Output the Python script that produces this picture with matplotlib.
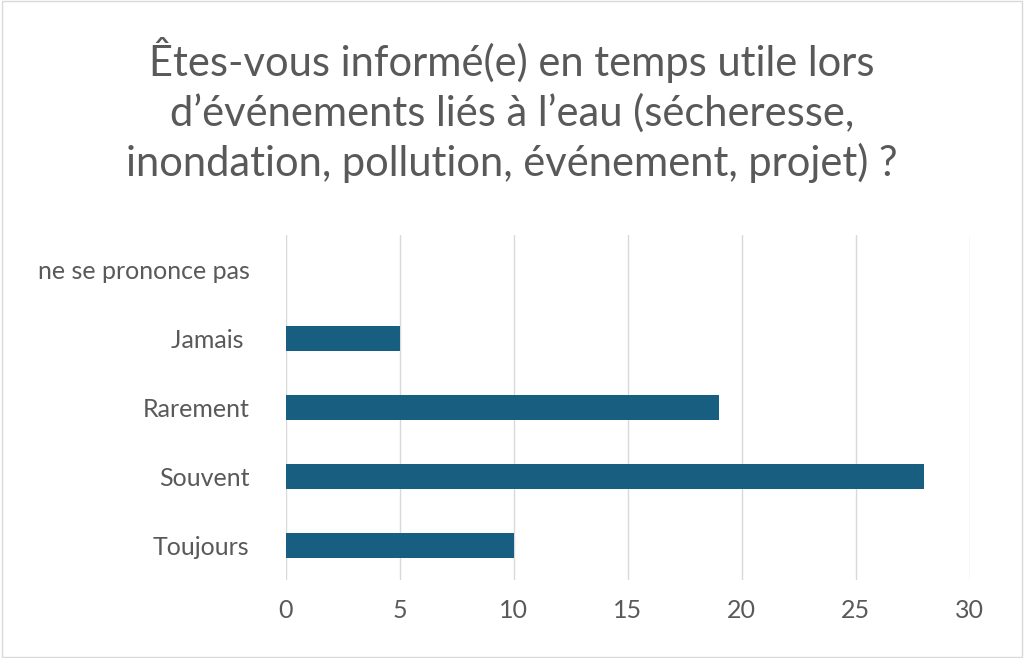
import matplotlib
matplotlib.use("Agg")
import matplotlib.pyplot as plt
from matplotlib.patches import Rectangle

categories = ["Toujours", "Souvent", "Rarement", "Jamais ", "ne se prononce pas"]
values = [10, 28, 19, 5, 0]
xticks = [0, 5, 10, 15, 20, 25, 30]

plt.rcParams['font.family'] = ['Lato', 'DejaVu Sans']
grey = "#595959"

fig = plt.figure(figsize=(10.24, 6.58), dpi=100)
fig.patches.append(Rectangle((0.002, 0.002), 0.996, 0.996, transform=fig.transFigure,
                             fill=False, edgecolor="#d9d9d9", linewidth=1))
ax = fig.add_axes([0.279, 0.119, 0.668, 0.524])

ax.barh(range(len(categories)), values, height=0.36, color="#175E80", zorder=3)
ax.set_yticks(range(len(categories)))
ax.set_yticklabels(categories)
ax.set_xticks(xticks)
ax.set_xlim(0, 30)
ax.set_ylim(-0.5, 4.5)
ax.grid(axis="x", color="#d9d9d9", linewidth=1, zorder=0)
for s in ax.spines.values():
    s.set_visible(False)
ax.tick_params(length=0, labelsize=18, colors=grey)
ax.tick_params(axis="y", pad=26)
ax.tick_params(axis="x", pad=14)

fig.text(0.5, 0.833,
         "Êtes-vous informé(e) en temps utile lors\n"
         "d’événements liés à l’eau (sécheresse,\n"
         "inondation, pollution, événement, projet) ?",
         ha="center", va="center", fontsize=30, color=grey, linespacing=1.3)

fig.savefig("out.png", dpi=100)
